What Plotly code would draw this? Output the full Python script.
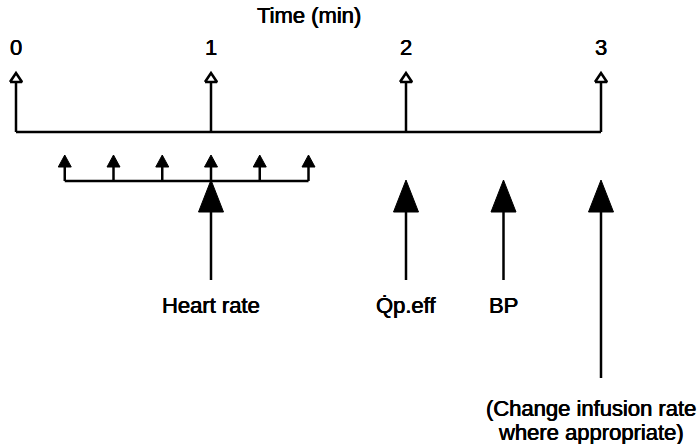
import plotly.graph_objects as go

# ---- data ----
axis_title = "Time (min)"
tick_times = [0, 1, 2, 3]
tick_labels = ["0", "1", "2", "3"]
sample_times = [0.25, 0.5, 0.75, 1.0, 1.25, 1.5]
event_times = [1, 2, 2.5, 3]
event_labels = ["Heart rate", "Q\u0307p.eff", "BP", "(Change infusion rate<br>where appropriate)"]
event_stem_ends = [280, 280, 280, 378]

# ---- layout constants (pixel units on the y axis) ----
W, H = 699, 444
X0_PX, PX_PER_MIN = 16, 195
px = lambda p: p / PX_PER_MIN  # horizontal pixel distance -> minutes

Y_MAIN = 132
Y_OPEN_BASE, Y_OPEN_APEX, OPEN_HW = 82, 73, 6
Y_SAMPLE_LINE = 181
Y_SMALL_BASE, Y_SMALL_APEX, SMALL_HW = 167, 155, 6.5
Y_BIG_APEX, Y_BIG_BASE, BIG_HW = 180, 212, 12.5
LW = 2.5
FONT = dict(family="Liberation Sans, Arial, sans-serif", size=22, color="black",
            shadow="0.35px 0 0 black, -0.35px 0 0 black")

fig = go.Figure()

def seg(xs, ys):
    fig.add_trace(go.Scatter(x=xs, y=ys, mode="lines",
                             line=dict(color="black", width=LW),
                             hoverinfo="skip", showlegend=False))

def tri(ts, base, apex, hw, filled, lw=LW):
    xs, ys = [], []
    for t in ts:
        xs += [t - px(hw), t + px(hw), t, t - px(hw), None]
        ys += [base, base, apex, base, None]
    fig.add_trace(go.Scatter(x=xs, y=ys, mode="lines",
                             fill="toself" if filled else None,
                             fillcolor="black" if filled else None,
                             line=dict(color="black", width=lw),
                             hoverinfo="skip", showlegend=False))

# main time line
seg([min(tick_times), max(tick_times)], [Y_MAIN, Y_MAIN])
# minute ticks with open arrowheads
xs, ys = [], []
for t in tick_times:
    xs += [t, t, None]
    ys += [Y_MAIN, Y_OPEN_BASE, None]
seg(xs, ys)
tri(tick_times, Y_OPEN_BASE, Y_OPEN_APEX, OPEN_HW, False, lw=2.6)

# sampling comb
seg([min(sample_times), max(sample_times)], [Y_SAMPLE_LINE, Y_SAMPLE_LINE])
xs, ys = [], []
for t in sample_times:
    xs += [t, t, None]
    ys += [Y_SAMPLE_LINE, Y_SMALL_BASE, None]
seg(xs, ys)
tri(sample_times, Y_SMALL_BASE, Y_SMALL_APEX, SMALL_HW, True, lw=1)

# big event arrows
xs, ys = [], []
for t, e in zip(event_times, event_stem_ends):
    xs += [t, t, None]
    ys += [e, Y_BIG_BASE, None]
seg(xs, ys)
tri(event_times, Y_BIG_BASE, Y_BIG_APEX, BIG_HW, True, lw=1)

# texts
fig.add_annotation(x=1.5, y=15.5, text=axis_title, showarrow=False,
                   font=FONT, xanchor="center", yanchor="middle")
for t, lab in zip(tick_times, tick_labels):
    fig.add_annotation(x=t, y=47.5, text=lab, showarrow=False,
                       font=FONT, xanchor="center", yanchor="middle")
for t, lab, e in zip(event_times, event_labels, event_stem_ends):
    if "<br>" in lab:
        # long two-line note sits below the stem, nudged left to fit the page
        for i, line in enumerate(lab.split("<br>")):
            fig.add_annotation(x=t - px(10), y=408 + 24 * i, text=line, showarrow=False,
                               font=FONT, xanchor="center", yanchor="middle")
    else:
        fig.add_annotation(x=t, y=305, text=lab, showarrow=False, font=FONT,
                           xanchor="center", yanchor="middle")

fig.update_layout(
    width=W, height=H, margin=dict(l=0, r=0, t=0, b=0),
    paper_bgcolor="white", plot_bgcolor="white",
    xaxis=dict(range=[-px(X0_PX), px(W - X0_PX)], visible=False, fixedrange=True),
    yaxis=dict(range=[H, 0], visible=False, fixedrange=True),
    showlegend=False,
)
fig.write_html("out.html", config={"displayModeBar": False},
               post_script="document.body.style.margin='0';document.body.style.overflow='hidden';")
